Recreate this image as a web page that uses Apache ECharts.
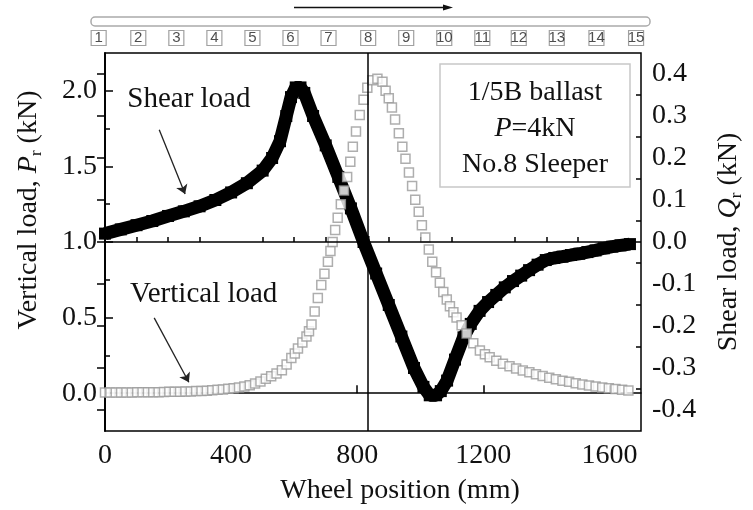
<!DOCTYPE html>
<html>
<head>
<meta charset="utf-8">
<script src="https://cdn.jsdelivr.net/npm/echarts@6.0.0/dist/echarts.min.js"></script>
<style>
  html, body { margin: 0; padding: 0; background: #fff; }
  #chart { width: 753px; height: 510px; }
</style>
</head>
<body>
<div id="chart"></div>
<script>
// wheel position (mm) and vertical load Pr (kN), hollow squares
var vertX = [0, 17, 34, 51, 68, 85, 102, 119, 136, 153, 170, 187, 204, 221, 238, 255, 272, 289, 306, 323,
  340, 357, 374, 391, 408, 425, 442, 459, 476, 493, 510, 527, 544, 561, 576, 591, 602, 612, 626, 639,
  647, 655, 665, 675, 686, 696, 707, 715, 722, 730, 738, 748, 758, 768, 778, 786, 796, 808, 820, 832,
  848, 864, 880, 890, 900, 910, 920, 932, 943, 953, 964, 974, 984, 995, 1005, 1016, 1027, 1038, 1050, 1062,
  1073, 1084, 1094, 1105, 1115, 1131, 1147, 1168, 1189, 1205, 1220, 1241, 1262, 1283, 1304, 1325, 1346, 1367, 1388, 1409,
  1430, 1451, 1472, 1493, 1514, 1535, 1556, 1577, 1598, 1619, 1640, 1660];
var vertY = [0.004, 0.004, 0.004, 0.005, 0.005, 0.005, 0.006, 0.006, 0.006, 0.007, 0.007, 0.008, 0.009, 0.009, 0.010, 0.011, 0.012, 0.014, 0.015, 0.017,
  0.019, 0.022, 0.025, 0.029, 0.033, 0.038, 0.045, 0.053, 0.064, 0.078, 0.095, 0.112, 0.13, 0.152, 0.19, 0.232, 0.262, 0.295, 0.335, 0.375,
  0.41, 0.455, 0.54, 0.63, 0.715, 0.79, 0.87, 0.94, 1.0, 1.08, 1.16, 1.25, 1.34, 1.43, 1.53, 1.63, 1.73, 1.84, 1.94, 2.02,
  2.07, 2.08, 2.06, 2.0, 1.95, 1.89, 1.81, 1.72, 1.63, 1.55, 1.46, 1.37, 1.28, 1.2, 1.11, 1.03, 0.95, 0.87, 0.8, 0.73,
  0.67, 0.62, 0.575, 0.535, 0.5, 0.45, 0.395, 0.33, 0.283, 0.258, 0.238, 0.215, 0.195, 0.178, 0.163, 0.15, 0.138, 0.126, 0.113, 0.102,
  0.092, 0.083, 0.075, 0.066, 0.058, 0.051, 0.044, 0.038, 0.032, 0.027, 0.022, 0.018];

// wheel position (mm) and shear load Qr (kN), filled squares
var shearX = [0, 50, 100, 150, 200, 250, 300, 350, 400, 450, 500, 530, 555, 575, 590, 605, 620, 632, 660, 700,
  740, 780, 820, 860, 900, 940, 980, 1010, 1030, 1050, 1065, 1085, 1110, 1137, 1160, 1188, 1215, 1241, 1268, 1294,
  1320, 1345, 1372, 1398, 1425, 1451, 1478, 1504, 1530, 1556, 1582, 1609, 1635, 1665];
var shearY = [0.02, 0.03, 0.04, 0.05, 0.062, 0.073, 0.085, 0.1, 0.118, 0.14, 0.17, 0.2, 0.24, 0.3, 0.345, 0.368, 0.368, 0.355, 0.3, 0.23,
  0.155, 0.08, 0.0, -0.075, -0.15, -0.225, -0.3, -0.345, -0.365, -0.365, -0.355, -0.33, -0.28, -0.227, -0.195, -0.164, -0.143, -0.126, -0.108, -0.093,
  -0.08, -0.067, -0.054, -0.043, -0.038, -0.035, -0.031, -0.028, -0.024, -0.02, -0.015, -0.011, -0.008, -0.005];

// sleeper positions along the track (mm), numbered 1..15
var sleeperX = [-20, 105, 225, 345, 465, 585, 705, 830, 950, 1070, 1190, 1305, 1425, 1550, 1675];
var sleeperNo = ['1', '2', '3', '4', '5', '6', '7', '8', '9', '10', '11', '12', '13', '14', '15'];

// ticks
var xMajor = [0, 400, 800, 1200, 1600];
var xMinor = [100, 200, 300, 500, 600, 700, 900, 1000, 1100, 1300, 1400, 1500];
var leftMajor = [0, 0.5, 1.0, 1.5, 2.0];
var leftMinor = [0.25, 0.75, 1.25, 1.75];
var rightMajor = [-0.4, -0.3, -0.2, -0.1, 0, 0.1, 0.2, 0.3, 0.4];
var rightMinor = [-0.35, -0.25, -0.15, -0.05, 0.05, 0.15, 0.25, 0.35];

var FONT = '"Liberation Serif", "Times New Roman", serif';
var myChart = echarts.init(document.getElementById('chart'));

function zip(a, b) {
    return a.map(function (v, i) { return [v, b[i]]; });
}

var axLine = { show: true, lineStyle: { color: '#000', width: 1.5 } };
var tickStyle = { color: '#000', width: 1.5 };
var labelStyle = { fontSize: 28, fontFamily: FONT, color: '#111' };

function minorAxis(pos, min, max, ticks) {
    return {
        gridIndex: 0, type: 'value', position: pos, min: min, max: max,
        axisLine: { show: false },
        axisTick: { show: true, inside: true, length: 5, customValues: ticks, lineStyle: tickStyle },
        axisLabel: { show: false },
        splitLine: { show: false }
    };
}

var option = {
    backgroundColor: '#fff',
    animation: false,
    grid: [
        { left: 105, right: 109, top: 53, bottom: 76, show: true, borderColor: '#000', borderWidth: 1.5 },
        { left: 105, right: 109, top: 30, height: 16 }
    ],
    xAxis: [
        {
            gridIndex: 0, type: 'value', position: 'bottom', min: 0, max: 1700,
            axisLine: axLine,
            axisTick: { show: true, inside: true, length: 8, customValues: xMajor, lineStyle: tickStyle },
            axisLabel: Object.assign({
                customValues: xMajor, margin: 11,
                formatter: function (v) { return String(v); }
            }, labelStyle),
            splitLine: { show: false },
            name: 'Wheel position (mm)',
            nameLocation: 'middle',
            nameGap: 46,
            nameTextStyle: { fontSize: 28, fontFamily: FONT, color: '#111', padding: [0, 0, 0, 54] }
        },
        minorAxis('bottom', 0, 1700, xMinor),
        { gridIndex: 1, type: 'value', min: 0, max: 1700, show: false }
    ],
    yAxis: [
        {
            gridIndex: 0, type: 'value', position: 'left', min: -0.25, max: 2.25,
            axisLine: axLine,
            axisTick: { show: true, inside: true, length: 8, customValues: leftMajor, lineStyle: tickStyle },
            axisLabel: Object.assign({
                customValues: leftMajor, margin: 8,
                formatter: function (v) { return v.toFixed(1); }
            }, labelStyle),
            splitLine: { show: false },
            name: '{t|Vertical load, }{i|P}{s|r}{t| (kN)}',
            nameLocation: 'middle',
            nameRotate: 90,
            nameGap: 60,
            nameTextStyle: {
                padding: [0, 0, 0, 64],
                rich: {
                    t: { fontSize: 28, fontFamily: FONT, color: '#111', lineHeight: 32 },
                    i: { fontSize: 28, fontFamily: FONT, fontStyle: 'italic', color: '#111', lineHeight: 32 },
                    s: { fontSize: 17, fontFamily: FONT, color: '#111', verticalAlign: 'bottom', lineHeight: 17 }
                }
            }
        },
        {
            gridIndex: 0, type: 'value', position: 'right', min: -0.45, max: 0.45,
            axisLine: axLine,
            axisTick: { show: true, inside: true, length: 8, customValues: rightMajor, lineStyle: tickStyle },
            axisLabel: Object.assign({
                customValues: rightMajor, margin: 11,
                formatter: function (v) { return v.toFixed(1); }
            }, labelStyle),
            splitLine: { show: false },
            name: '{t|Shear load, }{i|Q}{s|r}{t| (kN)}',
            nameLocation: 'middle',
            nameRotate: 90,
            nameGap: 72,
            nameTextStyle: {
                rich: {
                    t: { fontSize: 28, fontFamily: FONT, color: '#111', lineHeight: 32 },
                    i: { fontSize: 28, fontFamily: FONT, fontStyle: 'italic', color: '#111', lineHeight: 32 },
                    s: { fontSize: 17, fontFamily: FONT, color: '#111', verticalAlign: 'bottom', lineHeight: 17 }
                }
            }
        },
        minorAxis('left', -0.25, 2.25, leftMinor),
        minorAxis('right', -0.45, 0.45, rightMinor),
        { gridIndex: 1, type: 'value', min: 0, max: 1, show: false }
    ],
    graphic: [
        // rail and travel direction
        { type: 'rect', shape: { x: 91, y: 17, width: 559, height: 9, r: 4 }, style: { fill: '#fff', stroke: '#aaa', lineWidth: 1.5 } },
        { type: 'line', shape: { x1: 294, y1: 7.5, x2: 446, y2: 7.5 }, style: { stroke: '#111', lineWidth: 1.5 } },
        { type: 'polygon', shape: { points: [[443, 4.5], [453, 7.5], [443, 10.5]] }, style: { fill: '#111' } },
        // info box
        { type: 'rect', z: 10, shape: { x: 440, y: 64, width: 190, height: 123 }, style: { fill: '#fff', stroke: '#c8c8c8', lineWidth: 1.5 } },
        { type: 'text', z: 11, style: { text: '1/5B ballast', x: 535, y: 93, align: 'center', verticalAlign: 'middle', font: '28px ' + FONT, fill: '#111' } },
        {
            type: 'text', z: 11,
            style: {
                text: '{i|P}=4kN', x: 535, y: 129, align: 'center', verticalAlign: 'middle', fill: '#111',
                rich: { i: { fontStyle: 'italic', fontSize: 28, fontFamily: FONT } },
                font: '28px ' + FONT
            }
        },
        { type: 'text', z: 11, style: { text: 'No.8 Sleeper', x: 535, y: 165, align: 'center', verticalAlign: 'middle', font: '28px ' + FONT, fill: '#111' } }
    ],
    series: [
        {
            name: 'Shear load',
            type: 'line',
            xAxisIndex: 0,
            yAxisIndex: 1,
            data: zip(shearX, shearY),
            symbol: 'rect',
            symbolSize: 12,
            showSymbol: true,
            lineStyle: { color: '#000', width: 13 },
            itemStyle: { color: '#000' },
            z: 2,
            markLine: {
                silent: true,
                symbol: 'none',
                label: { show: false },
                lineStyle: { color: '#000', width: 1.5, type: 'solid' },
                data: [{ yAxis: 0 }, { xAxis: 833 }]
            }
        },
        {
            name: 'Vertical load',
            type: 'scatter',
            xAxisIndex: 0,
            yAxisIndex: 0,
            data: zip(vertX, vertY),
            symbol: 'rect',
            symbolSize: 9,
            itemStyle: { color: '#fff', borderColor: '#9a9a9a', borderWidth: 1.5 },
            z: 3,
            markPoint: {
                silent: true,
                symbol: 'rect',
                symbolSize: 1,
                itemStyle: { color: 'rgba(0,0,0,0)' },
                label: {
                    show: true, position: 'inside', fontSize: 29, fontFamily: FONT, color: '#111',
                    formatter: function (p) { return p.name; }
                },
                data: [
                    { name: 'Shear load', coord: [266, 1.94] },
                    { name: 'Vertical load', coord: [313, 0.655] }
                ]
            },
            markLine: {
                silent: true,
                symbol: ['none', 'arrow'],
                symbolSize: 9,
                label: { show: false },
                lineStyle: { color: '#222', width: 1.3, type: 'solid' },
                data: [
                    [{ coord: [172, 1.743] }, { coord: [254, 1.317] }],
                    [{ coord: [156, 0.498] }, { coord: [266, 0.072] }]
                ]
            }
        },
        {
            name: 'Sleepers',
            type: 'scatter',
            xAxisIndex: 2,
            yAxisIndex: 4,
            clip: false,
            data: sleeperX.map(function (x, i) { return { value: [x, 0.5], name: sleeperNo[i] }; }),
            symbol: 'rect',
            symbolSize: [15, 15],
            itemStyle: { color: '#fff', borderColor: '#888', borderWidth: 1.2 },
            label: {
                show: true, position: 'inside', fontSize: 15, fontFamily: '"Liberation Sans", Arial, sans-serif', color: '#222',
                formatter: function (p) { return p.name; }
            }
        }
    ]
};

option && myChart.setOption(option);
</script>
</body>
</html>
